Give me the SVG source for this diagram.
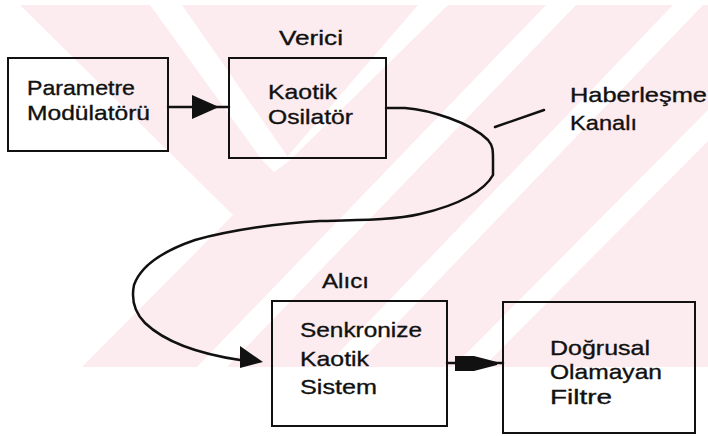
<svg xmlns="http://www.w3.org/2000/svg" width="708" height="436" viewBox="0 0 708 436">
  <style>
    .box { fill: none; stroke: #111; stroke-width: 2; }
    .lbl { font-family: "Liberation Sans", Arial, sans-serif; font-size: 21px; fill: #111; stroke: #111; stroke-width: 0.35; }
    .wire { fill: none; stroke: #111; stroke-width: 2.5; stroke-linejoin: round; stroke-linecap: round; }
    .head { fill: #111; }
    .wm { fill: #fcecef; }
    .gap { fill: #ffffff; }
  </style>
  <rect width="708" height="436" fill="#ffffff"/>

  <!-- background stripe pattern -->
  <g id="background">
    <rect class="wm" x="0" y="5" width="708" height="362"/>
    <polygon class="gap" points="0,5 20,5 233,215 82,367 0,367"/>
    <polygon class="gap" points="150,5 182,5 290,160 274,172 262,160"/>
    <polygon class="gap" points="418,5 448,5 290,160 274,172"/>
    <polygon class="gap" points="546,5 576,5 227,367 197,367"/>
    <polygon class="gap" points="673,5 703,5 355,367 325,367"/>
    <polygon class="gap" points="708,110 708,141 483,367 453,367"/>
  </g>

  <!-- connectors -->
  <g id="connectors">
    <line class="wire" x1="168" y1="107" x2="229" y2="107"/>
    <polygon class="head" points="192,95 219,107 192,119"/>
    <path class="wire" d="M386,108 L405,108 C430,110 470,122 488,140 C493,146 493,150 493,160 L493,175 C485,190 460,205 420,214 C395,220 360,220 320,221 C280,223 230,230 195,240 C160,252 140,268 134,285 C131,300 134,312 145,323 C165,342 200,354 240,360"/>
    <polygon class="head" points="240,346 263,362 240,368"/>
    <line class="wire" x1="447" y1="363" x2="503" y2="363"/>
    <polygon class="head" points="455,356 474,356 497,362 497,365 474,371 455,371"/>
    <line class="wire" x1="495" y1="127" x2="544" y2="110"/>
  </g>

  <g id="verici-label">
    <text class="lbl" x="279" y="45" textLength="64" lengthAdjust="spacingAndGlyphs">Verici</text>
  </g>
  <g id="alici-label">
    <text class="lbl" x="322" y="288" textLength="47" lengthAdjust="spacingAndGlyphs">Alıcı</text>
  </g>
  <g id="kanal-label">
    <text class="lbl" x="570" y="102" textLength="137" lengthAdjust="spacingAndGlyphs">Haberleşme</text>
    <text class="lbl" x="570" y="130" textLength="67" lengthAdjust="spacingAndGlyphs">Kanalı</text>
  </g>

  <g id="parametre-modulatoru">
    <rect class="box" x="8" y="58" width="160" height="93"/>
    <text class="lbl" x="27" y="95" textLength="108" lengthAdjust="spacingAndGlyphs">Parametre</text>
    <text class="lbl" x="27" y="120" textLength="123" lengthAdjust="spacingAndGlyphs">Modülatörü</text>
  </g>

  <g id="kaotik-osilator">
    <rect class="box" x="229" y="58" width="157" height="100"/>
    <text class="lbl" x="268" y="99" textLength="69" lengthAdjust="spacingAndGlyphs">Kaotik</text>
    <text class="lbl" x="268" y="124" textLength="85" lengthAdjust="spacingAndGlyphs">Osilatör</text>
  </g>

  <g id="senkronize-kaotik-sistem">
    <rect class="box" x="272" y="301" width="175" height="125"/>
    <text class="lbl" x="300" y="337" textLength="122" lengthAdjust="spacingAndGlyphs">Senkronize</text>
    <text class="lbl" x="300" y="366" textLength="69" lengthAdjust="spacingAndGlyphs">Kaotik</text>
    <text class="lbl" x="300" y="394" textLength="77" lengthAdjust="spacingAndGlyphs">Sistem</text>
  </g>

  <g id="dogrusal-olamayan-filtre">
    <rect class="box" x="503" y="302" width="192" height="131"/>
    <text class="lbl" x="550" y="355" textLength="100" lengthAdjust="spacingAndGlyphs">Doğrusal</text>
    <text class="lbl" x="550" y="379" textLength="112" lengthAdjust="spacingAndGlyphs">Olamayan</text>
    <text class="lbl" x="550" y="404" textLength="62" lengthAdjust="spacingAndGlyphs">Filtre</text>
  </g>
</svg>
